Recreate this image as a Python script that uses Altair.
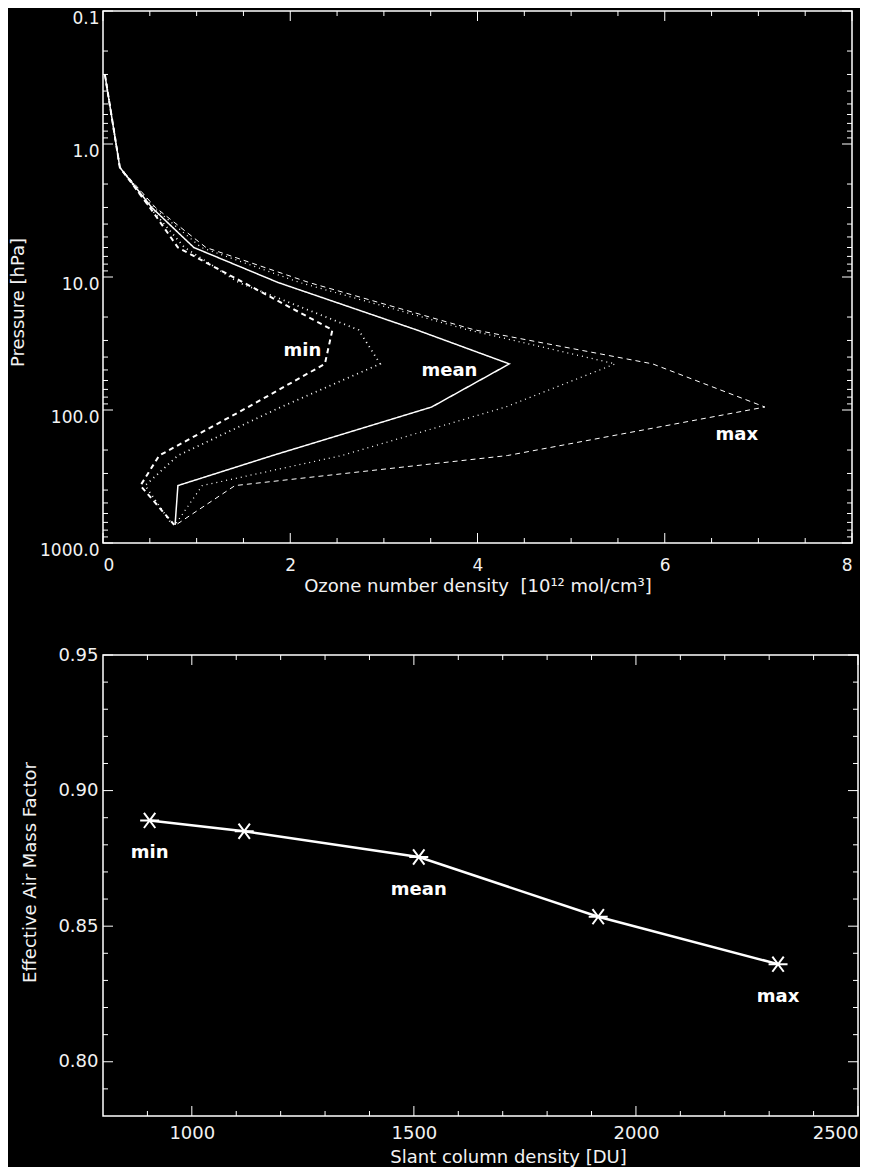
import altair as alt
import pandas as pd

# ---------------- top panel: ozone profiles ----------------
pressure_levels = [0.3, 1.5, 3, 6, 11, 25, 45, 95, 220, 370, 730]
profile_names = ["min", "q1", "mean", "q2", "max"]
min_profile = [0.02, 0.18, 0.50, 0.80, 1.50, 2.45, 2.37, 1.55, 0.60, 0.40, 0.76]
q1_profile = [0.02, 0.18, 0.50, 0.87, 1.45, 2.73, 2.96, 1.90, 0.80, 0.45, 0.74]
mean_profile = [0.02, 0.18, 0.52, 0.97, 1.87, 3.35, 4.34, 3.51, 1.81, 0.80, 0.77]
q2_profile = [0.02, 0.18, 0.54, 1.05, 2.10, 3.90, 5.47, 4.30, 2.55, 1.06, 0.77]
max_profile = [0.02, 0.18, 0.56, 1.10, 2.20, 3.97, 5.87, 7.07, 4.32, 1.41, 0.78]

label_texts = ["min", "mean", "max"]
label_density = [2.13, 3.70, 6.77]
label_pressure = [36, 51, 153]

x_top_major = [0, 2, 4, 6, 8]
x_top_minor = [0.5, 1, 1.5, 2.5, 3, 3.5, 4.5, 5, 5.5, 6.5, 7, 7.5]
p_major = [0.1, 1, 10, 100, 1000]
p_minor = [m * d for d in [0.1, 1, 10, 100] for m in range(2, 10)]

# ---------------- bottom panel: air mass factor ----------------
slant_column = [905, 1118, 1511, 1915, 2320]
amf = [0.889, 0.885, 0.8755, 0.8535, 0.836]
point_labels = ["min", "", "mean", "", "max"]

x_bot_major = [1000, 1500, 2000, 2500]
x_bot_minor = [900, 1100, 1200, 1300, 1400, 1600, 1700, 1800, 1900, 2100, 2200, 2300, 2400]
y_bot_major = [0.80, 0.85, 0.90, 0.95]
y_bot_minor = [0.79, 0.81, 0.82, 0.83, 0.84, 0.86, 0.87, 0.88, 0.89, 0.91, 0.92, 0.93, 0.94]

FONT = "DejaVu Sans"
FG = "#f2f2f2"
W1, H1 = 749, 532
W2, H2 = 755, 461
MAJ, MIN = 10, 5

rows = []
series = [min_profile, q1_profile, mean_profile, q2_profile, max_profile]
for name, vals in zip(profile_names, series):
    for i, (p, v) in enumerate(zip(pressure_levels, vals)):
        rows.append({"profile": name, "idx": i, "pressure": p, "density": v})
prof_df = pd.DataFrame(rows)

xs_top = alt.Scale(domain=[0, 8], nice=False, zero=False)
ys_top = alt.Scale(type="log", domain=[0.1, 1000], nice=False, reverse=True)

xa_top = alt.Axis(values=x_top_major, format="d", ticks=False, domain=False, grid=False,
                  labelPadding=14, labelFontSize=17,
                  title="Ozone number density\u00a0\u00a0[10¹² mol/cm³]",
                  titlePadding=4, titleFontSize=18, titleFontWeight="normal")
ya_top = alt.Axis(values=p_major, format=".1f", ticks=False, domain=False, grid=False,
                  labelPadding=4, labelFontSize=17, labelOffset=7, title="Pressure [hPa]",
                  titleX=-85, titleY=291, titleAngle=270, titleAlign="center",
                  titleBaseline="middle", titleFontSize=18, titleFontWeight="normal")

xs_bot = alt.Scale(domain=[800, 2500], nice=False, zero=False)
ys_bot = alt.Scale(domain=[0.78, 0.95], nice=False, zero=False)

xa_bot = alt.Axis(values=x_bot_major, format="d", ticks=False, domain=False, grid=False,
                  labelPadding=8, labelFontSize=18, labelFlush=True,
                  title="Slant column density [DU]", titlePadding=6, titleFontSize=18,
                  titleFontWeight="normal", titleX=405, titleAlign="center")
ya_bot = alt.Axis(values=y_bot_major, format=".2f", ticks=False, domain=False, grid=False,
                  labelPadding=5, labelFontSize=18, title="Effective Air Mass Factor",
                  titleX=-73, titleY=217, titleAngle=270, titleAlign="center",
                  titleBaseline="middle", titleFontSize=18, titleFontWeight="normal")

lines = alt.Chart(prof_df).mark_line(color="white", clip=True).encode(
    x=alt.X("density:Q", scale=xs_top, axis=xa_top),
    y=alt.Y("pressure:Q", scale=ys_top, axis=ya_top),
    detail="profile:N",
    order="idx:Q",
    strokeDash=alt.StrokeDash("profile:N", scale=alt.Scale(domain=profile_names,
                              range=[[5, 4], [1, 4], [1, 0], [1, 4], [5, 4]]), legend=None),
    strokeWidth=alt.StrokeWidth("profile:N", scale=alt.Scale(domain=profile_names,
                                range=[2, 1, 2.5, 1, 2]), legend=None),
)

lab_df = pd.DataFrame({"density": label_density, "pressure": label_pressure, "t": label_texts})
top_labels = alt.Chart(lab_df).mark_text(color="white", font=FONT, fontSize=18, fontWeight="bold").encode(
    x=alt.X("density:Q", scale=xs_top, axis=xa_top),
    y=alt.Y("pressure:Q", scale=ys_top, axis=ya_top),
    text="t:N",
)


def xticks(vals, field, scale, axis, height, length):
    df = pd.DataFrame({field: vals})
    b = alt.Chart(df).mark_rule(color="white", strokeWidth=1).encode(
        x=alt.X(f"{field}:Q", scale=scale, axis=axis), y=alt.value(height), y2=alt.value(height - length))
    t = alt.Chart(df).mark_rule(color="white", strokeWidth=1).encode(
        x=alt.X(f"{field}:Q", scale=scale, axis=axis), y=alt.value(0), y2=alt.value(length))
    return [b, t]


def yticks(vals, field, scale, axis, width, length):
    df = pd.DataFrame({field: vals})
    l = alt.Chart(df).mark_rule(color="white", strokeWidth=1).encode(
        y=alt.Y(f"{field}:Q", scale=scale, axis=axis), x=alt.value(0), x2=alt.value(length))
    r = alt.Chart(df).mark_rule(color="white", strokeWidth=1).encode(
        y=alt.Y(f"{field}:Q", scale=scale, axis=axis), x=alt.value(width), x2=alt.value(width - length))
    return [l, r]


top_layers = [lines, top_labels]
top_layers += xticks(x_top_major, "density", xs_top, xa_top, H1, MAJ)
top_layers += xticks(x_top_minor, "density", xs_top, xa_top, H1, MIN)
top_layers += yticks(p_major, "pressure", ys_top, ya_top, W1, MAJ)
top_layers += yticks(p_minor, "pressure", ys_top, ya_top, W1, MIN)
top = alt.layer(*top_layers).properties(width=W1, height=H1)

# bottom
amf_df = pd.DataFrame({"scd": slant_column, "amf": amf, "lab": point_labels})
star = "M-1,0L1,0M-0.6,-0.8L0.6,0.8M-0.6,0.8L0.6,-0.8"

base = alt.Chart(amf_df).encode(
    x=alt.X("scd:Q", scale=xs_bot, axis=xa_bot),
    y=alt.Y("amf:Q", scale=ys_bot, axis=ya_bot),
)
amf_line = base.mark_line(color="white", strokeWidth=2.5)
amf_pts = base.mark_point(shape=star, size=360, filled=False, color="white", strokeWidth=2, opacity=1)
amf_text = base.mark_text(color="white", font=FONT, fontSize=18, fontWeight="bold", dy=33).encode(text="lab:N")

bot_layers = [amf_line, amf_pts, amf_text]
bot_layers += xticks(x_bot_major, "scd", xs_bot, xa_bot, H2, MAJ)
bot_layers += xticks(x_bot_minor, "scd", xs_bot, xa_bot, H2, MIN)
bot_layers += yticks(y_bot_major, "amf", ys_bot, ya_bot, W2, MAJ)
bot_layers += yticks(y_bot_minor, "amf", ys_bot, ya_bot, W2, MIN)
bottom = alt.layer(*bot_layers).properties(width=W2, height=H2)

chart = alt.vconcat(top, bottom, spacing=49).properties(
    background="black",
    padding={"left": 0, "top": 0, "right": 0, "bottom": 0},
).configure_view(
    stroke="white", strokeWidth=1.5
).configure_axis(
    labelColor=FG, titleColor=FG, labelFont=FONT, titleFont=FONT
)

chart.save("out.html", embed_options={"renderer": "svg", "actions": False})
